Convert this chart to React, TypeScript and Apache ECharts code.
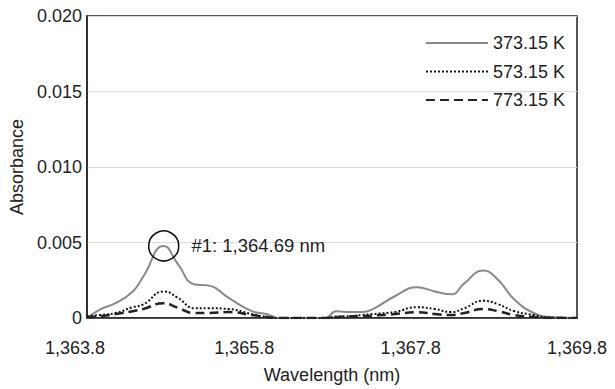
import React, { useEffect, useRef } from "react";
import * as echarts from "echarts";

const wavelengths = [
  1363.8, 1363.97, 1364.15, 1364.36, 1364.49, 1364.74, 1364.91, 1365.12, 1365.28, 1365.54,
  1365.82, 1366.0, 1366.15, 1366.45, 1366.72, 1366.85, 1367.03, 1367.17, 1367.3, 1367.57,
  1367.84, 1368.06, 1368.26, 1368.42, 1368.65, 1368.83, 1369.03, 1369.27, 1369.47, 1369.8,
];

const abs373 = [
  0, 0.00059, 0.00098, 0.00176, 0.00275, 0.00477, 0.0036, 0.00222, 0.00216, 0.00131,
  0.00046, 0.00026, 0, 0, 0, 0.00044, 0.0004, 0.0004, 0.00059, 0.00144,
  0.00203, 0.00176, 0.00157, 0.00229, 0.00314, 0.00255, 0.00124, 0.00033, 0.00007, 0,
];

const abs573 = [
  0.00013, 0.0002, 0.00033, 0.00072, 0.0009, 0.00176, 0.00135, 0.00065, 0.00065, 0.00059,
  0.00026, 0.00007, 0, 0, 0, 0.0001, 0.00013, 0.0002, 0.00026, 0.0004,
  0.00072, 0.00059, 0.0004, 0.00065, 0.00114, 0.00092, 0.00046, 0.0002, 0.00003, 0,
];

const abs773 = [
  0.00005, 0.00013, 0.00026, 0.00045, 0.0006, 0.00098, 0.00068, 0.00033, 0.00033, 0.00039,
  0.0002, 0.00007, 0, 0, 0, 0.00005, 0.0001, 0.00013, 0.00016, 0.00026,
  0.00039, 0.00026, 0.0002, 0.00033, 0.00059, 0.00046, 0.0002, 0.00007, 0, 0,
];

const seriesNames = ["373.15 K", "573.15 K", "773.15 K"];
const peakLabel = "#1: 1,364.69 nm";
const peakIndex = 5;

const FONT = "'Liberation Sans', Arial, Helvetica, sans-serif";

function fmtX(v: number): string {
  const s = v.toFixed(1);
  const [i, d] = s.split(".");
  return i.replace(/\B(?=(\d{3})+(?!\d))/g, ",") + "." + d;
}

export default function App() {
  const ref = useRef<HTMLDivElement>(null);
  useEffect(() => {
    document.body.style.margin = "0";
    if (!ref.current) return;
    const chart = echarts.init(ref.current, undefined, { renderer: "svg" });
    const pair = (ys: number[]) => wavelengths.map((x, i) => [x, ys[i]]);
    const common = {
      type: "line" as const,
      symbol: "none",
      smooth: 0.5,
    };
    const labelRich: Record<string, any> = {};
    [24, 12, 6, 0].forEach((p, i) => {
      labelRich["l" + i] = { fontSize: 18, color: "#222", fontFamily: FONT, padding: [0, p, 0, 0] };
    });
    chart.setOption({
      animation: false,
      textStyle: { fontFamily: FONT },
      grid: {
        left: 81,
        right: 38,
        top: 16,
        bottom: 67,
        show: true,
        borderColor: "#222",
        borderWidth: 1.5,
        backgroundColor: "transparent",
      },
      legend: {
        orient: "vertical",
        right: 45,
        top: 29,
        itemWidth: 62,
        itemHeight: 14,
        itemGap: 10.5,
        data: seriesNames,
        itemStyle: { opacity: 0 },
        textStyle: { fontSize: 18, color: "#222", fontFamily: FONT },
      },
      xAxis: {
        type: "value",
        min: 1363.8,
        max: 1369.8,
        interval: 2,
        name: "Wavelength (nm)",
        nameLocation: "middle",
        nameGap: 48,
        nameTextStyle: { fontSize: 18, color: "#222", fontFamily: FONT },
        axisLine: { show: true, lineStyle: { color: "#222", width: 1.5 } },
        axisTick: { show: false },
        splitLine: { show: false },
        axisLabel: {
          fontSize: 18,
          color: "#222",
          margin: 21,
          fontFamily: FONT,
          rich: labelRich,
          formatter: (v: number, idx: number) => `{l${Math.min(idx, 3)}|${fmtX(v)}}`,
        },
      },
      yAxis: {
        type: "value",
        min: 0,
        max: 0.02,
        interval: 0.005,
        name: "Absorbance",
        nameLocation: "middle",
        nameGap: 55,
        nameTextStyle: { fontSize: 18, color: "#222", fontFamily: FONT },
        axisLine: { show: true, lineStyle: { color: "#222", width: 1.5 } },
        axisTick: { show: false },
        splitLine: { show: true, lineStyle: { color: "#dcdcdc", width: 1 } },
        axisLabel: {
          fontSize: 18,
          color: "#222",
          margin: 5,
          fontFamily: FONT,
          formatter: (v: number) => (v === 0 ? "0" : v.toFixed(3)),
        },
      },
      series: [
        {
          ...common,
          name: seriesNames[0],
          data: pair(abs373),
          lineStyle: { color: "#8a8a8a", width: 2 },
          itemStyle: { color: "#8a8a8a" },
          z: 2,
          markPoint: {
            symbol: "circle",
            symbolSize: 30,
            silent: true,
            itemStyle: { color: "rgba(0,0,0,0)", borderColor: "#111", borderWidth: 1.5 },
            label: {
              show: true,
              position: "right",
              distance: 12,
              formatter: peakLabel,
              fontSize: 18.5,
              color: "#222",
              fontFamily: FONT,
            },
            data: [{ coord: [wavelengths[peakIndex], abs373[peakIndex]] }],
          },
        },
        {
          ...common,
          name: seriesNames[1],
          data: pair(abs573),
          lineStyle: { color: "#111", width: 2, type: "dotted" },
          itemStyle: { color: "#111" },
          z: 3,
        },
        {
          ...common,
          name: seriesNames[2],
          data: pair(abs773),
          lineStyle: { color: "#222", width: 2.5, type: [9, 5] },
          itemStyle: { color: "#222" },
          z: 4,
        },
      ],
    });
    return () => chart.dispose();
  }, []);
  return <div ref={ref} style={{ width: 615, height: 389 }} />;
}
